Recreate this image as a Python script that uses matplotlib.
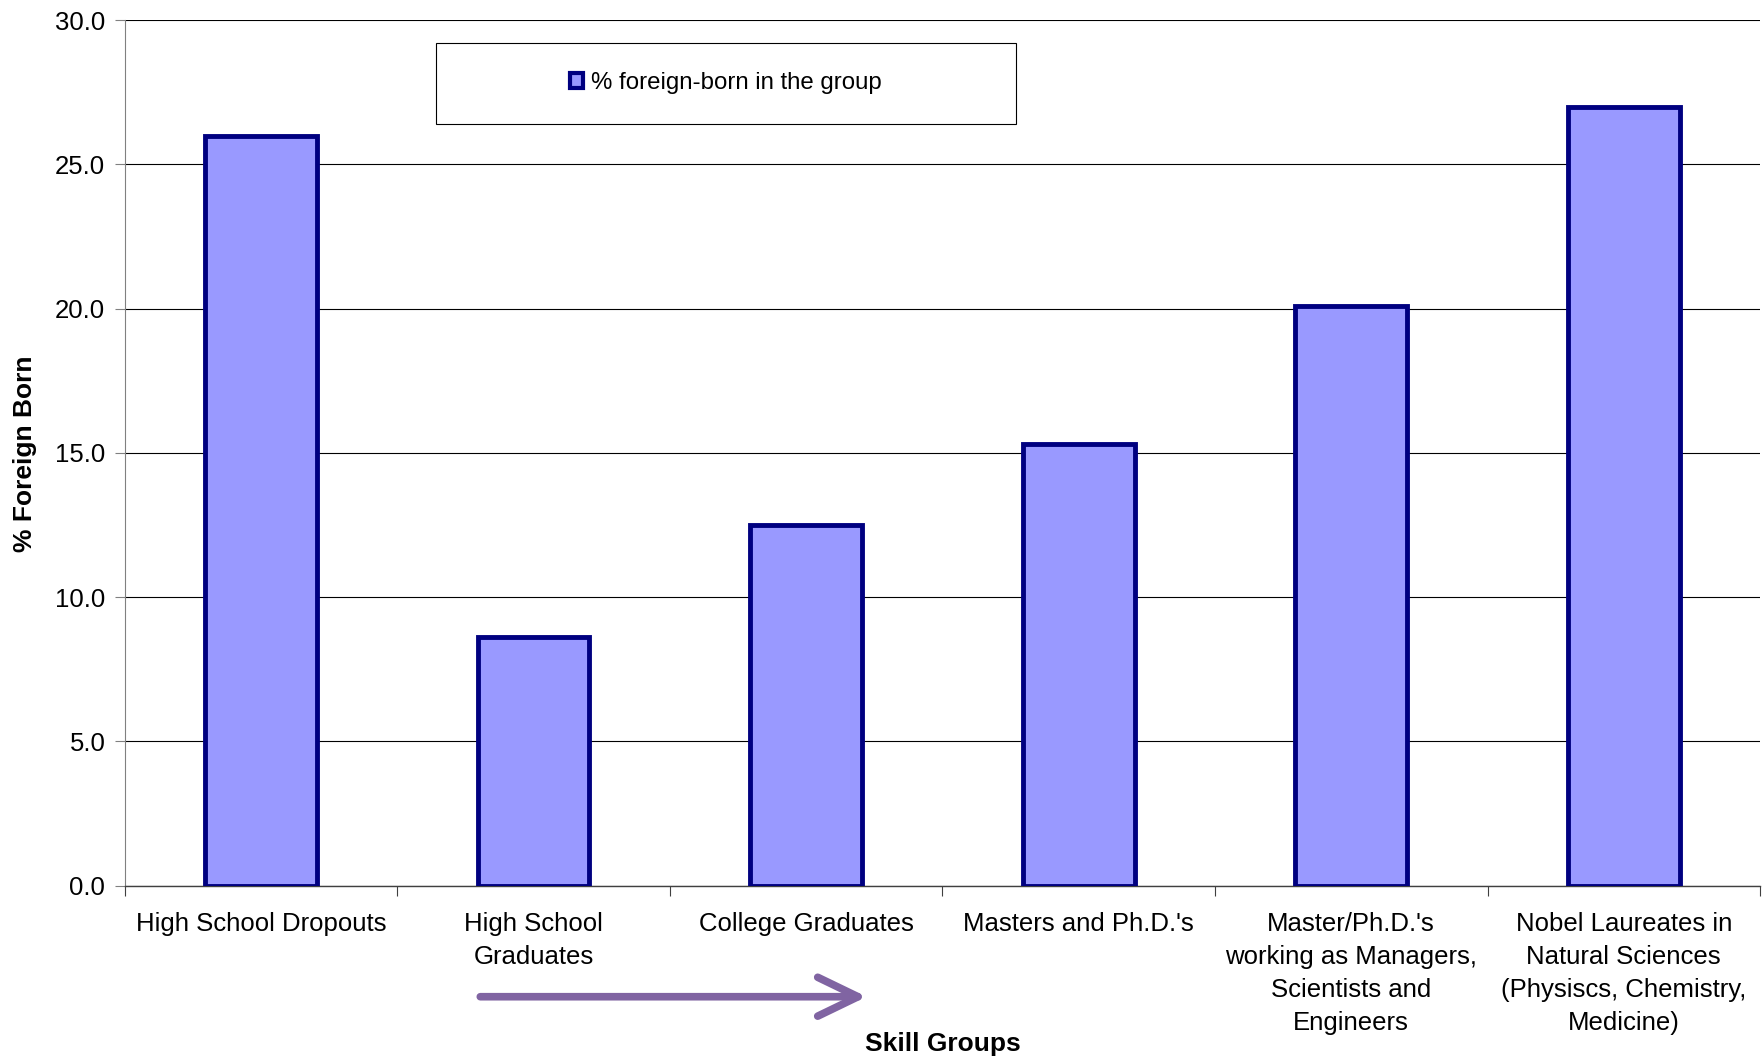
import numpy as np
import matplotlib.pyplot as plt
from matplotlib.patches import Patch, Rectangle, FancyArrowPatch

plt.rcParams["font.family"] = ["Liberation Sans", "DejaVu Sans"]

# Data
groups = [
    "High School Dropouts",
    "High School\nGraduates",
    "College Graduates",
    "Masters and Ph.D.'s",
    "Master/Ph.D.'s\nworking as Managers,\nScientists and\nEngineers",
    "Nobel Laureates in\nNatural Sciences\n(Physiscs, Chemistry,\nMedicine)",
]
pct_foreign = [26.0, 8.6, 12.5, 15.3, 20.1, 27.0]
y_ticks = [0, 5, 10, 15, 20, 25, 30]
series_name = "% foreign-born in the group"

fill_color = "#9999FF"
edge_color = "#000080"
arrow_color = "#8064A2"


def plot_chart():
    fig = plt.figure(figsize=(17.62, 10.60), dpi=100)
    ax = fig.add_axes([0.0708, 0.1646, 0.9281, 0.8164])

    x = np.arange(len(groups))
    ax.bar(
        x,
        pct_foreign,
        width=0.41,
        color=fill_color,
        edgecolor=edge_color,
        linewidth=3.5,
        zorder=3
    )

    # Axes limits and ticks
    ax.set_xlim(-0.5, len(groups) - 0.5)
    ax.set_ylim(0, 30)
    ax.set_yticks(y_ticks)
    ax.set_yticklabels([f"{v:.1f}" for v in y_ticks])
    ax.set_xticks(x)
    ax.set_xticklabels(groups, linespacing=1.47)
    ax.set_xticks(np.arange(len(groups) + 1) - 0.5, minor=True)

    ax.tick_params(axis="x", which="major", length=0, pad=19, labelsize=18.5)
    ax.tick_params(axis="x", which="minor", length=7, width=0.8,
                   direction="out", color="#404040")
    ax.tick_params(axis="y", length=7, width=0.8, direction="out",
                   pad=7, labelsize=18.5, color="#808080")

    # Gridlines
    ax.yaxis.grid(True, color="#000000", linewidth=0.8, zorder=0)
    ax.set_axisbelow(True)

    for side in ["top", "right"]:
        ax.spines[side].set_visible(False)
    ax.spines["left"].set_color("#808080")
    ax.spines["left"].set_linewidth(0.8)
    ax.spines["bottom"].set_color("#404040")
    ax.spines["bottom"].set_linewidth(1.0)

    # Axis labels
    ax.set_ylabel("% Foreign Born", fontsize=19, fontweight="bold", va="center")
    ax.yaxis.set_label_coords(-0.0612, 0.4987)
    ax.set_xlabel("Skill Groups", fontsize=19, fontweight="bold", va="center")
    ax.xaxis.set_label_coords(0.5, -0.1832)

    # Legend box
    fig.patches.append(
        Rectangle(
            (0.2475, 0.8834), 0.3291, 0.0763,
            transform=fig.transFigure,
            facecolor="white",
            edgecolor="#000000",
            linewidth=0.8,
            zorder=5
        )
    )
    handle = Patch(facecolor=fill_color, edgecolor=edge_color, linewidth=3)
    leg = fig.legend(
        [handle],
        [series_name],
        loc="center",
        bbox_to_anchor=(0.2475 + 0.3291 / 2, 0.8834 + 0.0763 / 2),
        frameon=False,
        fontsize=17.3,
        handlelength=0.55,
        handleheight=0.55,
        handletextpad=0.35
    )
    leg.set_zorder(6)

    # Skill arrow under the x labels
    fig.add_artist(
        FancyArrowPatch(
            (0.271, 0.0597),
            (0.4935, 0.0597),
            transform=fig.transFigure,
            arrowstyle="->,head_length=1.45,head_width=0.7",
            mutation_scale=20,
            color=arrow_color,
            linewidth=5.5
        )
    )

    plt.savefig("out.png", dpi=100)


if __name__ == "__main__":
    plot_chart()
